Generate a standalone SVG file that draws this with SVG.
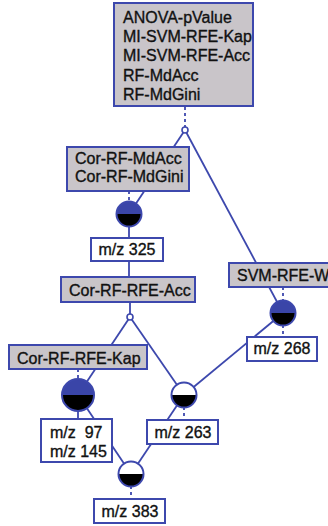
<svg xmlns="http://www.w3.org/2000/svg" width="328" height="526" viewBox="0 0 328 526">
  <style>
    .box { fill: #c9c5c9; stroke: #3d48ad; stroke-width: 2; }
    .mz { fill: #ffffff; stroke: #3d48ad; stroke-width: 2; }
    .lbl { font-family: "Liberation Sans", Arial, sans-serif; font-size: 16px; fill: #111111; stroke: #111111; stroke-width: 0.35; }
    .mid { text-anchor: middle; }
    .edge { stroke: #3d48ad; stroke-width: 1.8; fill: none; }
    .dash { stroke: #3d48ad; stroke-width: 1.8; fill: none; stroke-dasharray: 3 3; }
    .ring { fill: none; stroke: #3d48ad; stroke-width: 2; }
    .hi { fill: #3a45a8; }
    .lo { fill: #000000; }
    .wt { fill: #ffffff; }
    .jn { fill: #ffffff; stroke: #3d48ad; stroke-width: 1.6; }
  </style>

  <!-- connectors -->
  <g id="connectors">
    <line class="dash" x1="185" y1="107" x2="185" y2="127"/>
    <line class="edge" x1="185" y1="130" x2="129" y2="214"/>
    <line class="edge" x1="185" y1="130" x2="283" y2="313"/>
    <line class="dash" x1="129" y1="191" x2="129" y2="202"/>
    <line class="edge" x1="129" y1="226" x2="129" y2="238"/>
    <line class="edge" x1="129" y1="261" x2="129" y2="277"/>
    <line class="edge" x1="130" y1="302" x2="130" y2="314"/>
    <line class="edge" x1="130" y1="317" x2="78" y2="395"/>
    <line class="edge" x1="130" y1="317" x2="184" y2="395"/>
    <line class="dash" x1="78" y1="369" x2="78" y2="379"/>
    <line class="edge" x1="78" y1="411" x2="78" y2="419"/>
    <line class="edge" x1="78" y1="395" x2="131" y2="474"/>
    <line class="edge" x1="184" y1="395" x2="131" y2="474"/>
    <line class="dash" x1="184" y1="407" x2="184" y2="420"/>
    <line class="dash" x1="131" y1="486" x2="131" y2="499"/>
    <line class="dash" x1="283" y1="287" x2="283" y2="300"/>
    <line class="dash" x1="283" y1="325" x2="283" y2="337"/>
    <line class="edge" x1="283" y1="313" x2="184" y2="395"/>
  </g>

  <!-- feature-set boxes -->
  <g id="node-top">
    <rect class="box" x="114" y="3" width="139" height="103"/>
    <text class="lbl" x="123" y="23">ANOVA-pValue</text>
    <text class="lbl" x="123" y="42">MI-SVM-RFE-Kap</text>
    <text class="lbl" x="123" y="61">MI-SVM-RFE-Acc</text>
    <text class="lbl" x="123" y="81">RF-MdAcc</text>
    <text class="lbl" x="123" y="100">RF-MdGini</text>
  </g>
  <g id="node-cor-md">
    <rect class="box" x="67" y="147" width="122" height="44"/>
    <text class="lbl" x="75" y="164">Cor-RF-MdAcc</text>
    <text class="lbl" x="75" y="182">Cor-RF-MdGini</text>
  </g>
  <g id="node-cor-acc">
    <rect class="box" x="61" y="277" width="134" height="25"/>
    <text class="lbl" x="69" y="296">Cor-RF-RFE-Acc</text>
  </g>
  <g id="node-cor-kap">
    <rect class="box" x="9" y="345" width="138" height="24"/>
    <text class="lbl" x="17" y="364">Cor-RF-RFE-Kap</text>
  </g>
  <g id="node-svm-w">
    <rect class="box" x="229" y="263" width="110" height="24"/>
    <text class="lbl" x="237" y="281">SVM-RFE-W</text>
  </g>

  <!-- m/z boxes -->
  <g id="node-mz325">
    <rect class="mz" x="91" y="238" width="72" height="23"/>
    <text class="lbl mid" x="127" y="255">m/z 325</text>
  </g>
  <g id="node-mz268">
    <rect class="mz" x="247" y="337" width="70" height="24"/>
    <text class="lbl mid" x="282" y="354">m/z 268</text>
  </g>
  <g id="node-mz263">
    <rect class="mz" x="147" y="420" width="71" height="24"/>
    <text class="lbl mid" x="183" y="438">m/z 263</text>
  </g>
  <g id="node-mz97-145">
    <rect class="mz" x="41" y="419" width="71" height="43"/>
    <text class="lbl" x="50" y="438" xml:space="preserve" style="white-space:pre">m/z  97</text>
    <text class="lbl" x="50" y="457">m/z 145</text>
  </g>
  <g id="node-mz383">
    <rect class="mz" x="94" y="499" width="71" height="24"/>
    <text class="lbl mid" x="130" y="517">m/z 383</text>
  </g>

  <!-- junction points -->
  <g id="junction-top"><circle class="jn" cx="185" cy="130" r="3"/></g>
  <g id="junction-acc"><circle class="jn" cx="130" cy="317" r="3"/></g>

  <!-- half-filled markers -->
  <g id="marker-325">
    <path class="hi" d="M116.5,214 A12.5,12.5 0 0 1 141.5,214 Z"/>
    <path class="lo" d="M116.5,214 A12.5,12.5 0 0 0 141.5,214 Z"/>
    <circle class="ring" cx="129" cy="214" r="12.5"/>
  </g>
  <g id="marker-97-145">
    <path class="hi" d="M62,395 A16,16 0 0 1 94,395 Z"/>
    <path class="lo" d="M62,395 A16,16 0 0 0 94,395 Z"/>
    <circle class="ring" cx="78" cy="395" r="16"/>
  </g>
  <g id="marker-268">
    <path class="hi" d="M270.5,313 A12.5,12.5 0 0 1 295.5,313 Z"/>
    <path class="lo" d="M270.5,313 A12.5,12.5 0 0 0 295.5,313 Z"/>
    <circle class="ring" cx="283" cy="313" r="12.5"/>
  </g>
  <g id="marker-263">
    <path class="wt" d="M171.5,395 A12.5,12.5 0 0 1 196.5,395 Z"/>
    <path class="lo" d="M171.5,395 A12.5,12.5 0 0 0 196.5,395 Z"/>
    <circle class="ring" cx="184" cy="395" r="12.5"/>
  </g>
  <g id="marker-383">
    <path class="wt" d="M118.5,474 A12.5,12.5 0 0 1 143.5,474 Z"/>
    <path class="lo" d="M118.5,474 A12.5,12.5 0 0 0 143.5,474 Z"/>
    <circle class="ring" cx="131" cy="474" r="12.5"/>
  </g>
</svg>
